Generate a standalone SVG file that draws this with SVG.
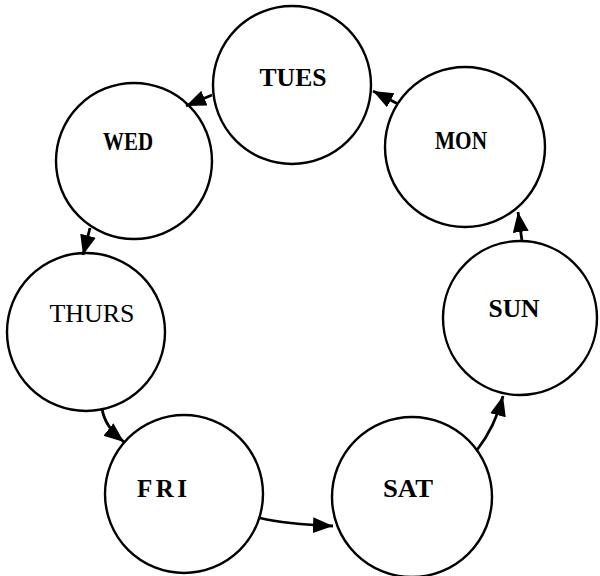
<svg xmlns="http://www.w3.org/2000/svg" width="600" height="576" viewBox="0 0 600 576">
  <style>
    .day circle { fill: #fff; stroke: #000; stroke-width: 2.4; }
    .day text { font-family: "Liberation Serif", "DejaVu Serif", serif; font-size: 25px; font-weight: bold; fill: #000; text-anchor: middle; }
    .day text.light { font-weight: normal; }
    .links path { fill: none; stroke: #000; stroke-width: 2.8; marker-end: url(#head); }
  </style>
  <defs>
    <marker id="head" markerUnits="userSpaceOnUse" markerWidth="22" markerHeight="18" refX="20" refY="8" orient="auto">
      <path d="M0,0 L20,8 L0,16 Z" fill="#000"/>
    </marker>
  </defs>

  <!-- days of the week -->
  <g id="tues" class="day">
    <circle cx="292" cy="85" r="79"/>
    <text x="293" y="86" textLength="67" lengthAdjust="spacingAndGlyphs">TUES</text>
  </g>
  <g id="mon" class="day">
    <circle cx="465" cy="147" r="80"/>
    <text x="461" y="149" textLength="52" lengthAdjust="spacingAndGlyphs">MON</text>
  </g>
  <g id="wed" class="day">
    <circle cx="134" cy="161" r="78"/>
    <text x="128" y="150" textLength="50" lengthAdjust="spacingAndGlyphs">WED</text>
  </g>
  <g id="thurs" class="day">
    <circle cx="86" cy="332" r="79"/>
    <text class="light" x="92" y="322" textLength="85" lengthAdjust="spacingAndGlyphs">THURS</text>
  </g>
  <g id="sun" class="day">
    <circle cx="520" cy="318" r="77"/>
    <text x="514" y="317" textLength="51" lengthAdjust="spacingAndGlyphs">SUN</text>
  </g>
  <g id="fri" class="day">
    <circle cx="184" cy="494" r="79"/>
    <text x="162" y="497" textLength="50" lengthAdjust="spacing">FRI</text>
  </g>
  <g id="sat" class="day">
    <circle cx="412" cy="497" r="80"/>
    <text x="408" y="497" textLength="50" lengthAdjust="spacingAndGlyphs">SAT</text>
  </g>

  <!-- connectors -->
  <g id="links" class="links">
    <path d="M398,104 L373,91"/>
    <path d="M212,95 L186,106"/>
    <path d="M90,228 L83,255"/>
    <path d="M102,408 Q104,426 124,442"/>
    <path d="M260,518 Q285,524 333,526"/>
    <path d="M477,450 Q495,427 503,396"/>
    <path d="M522,241 L518,212"/>
  </g>
</svg>
